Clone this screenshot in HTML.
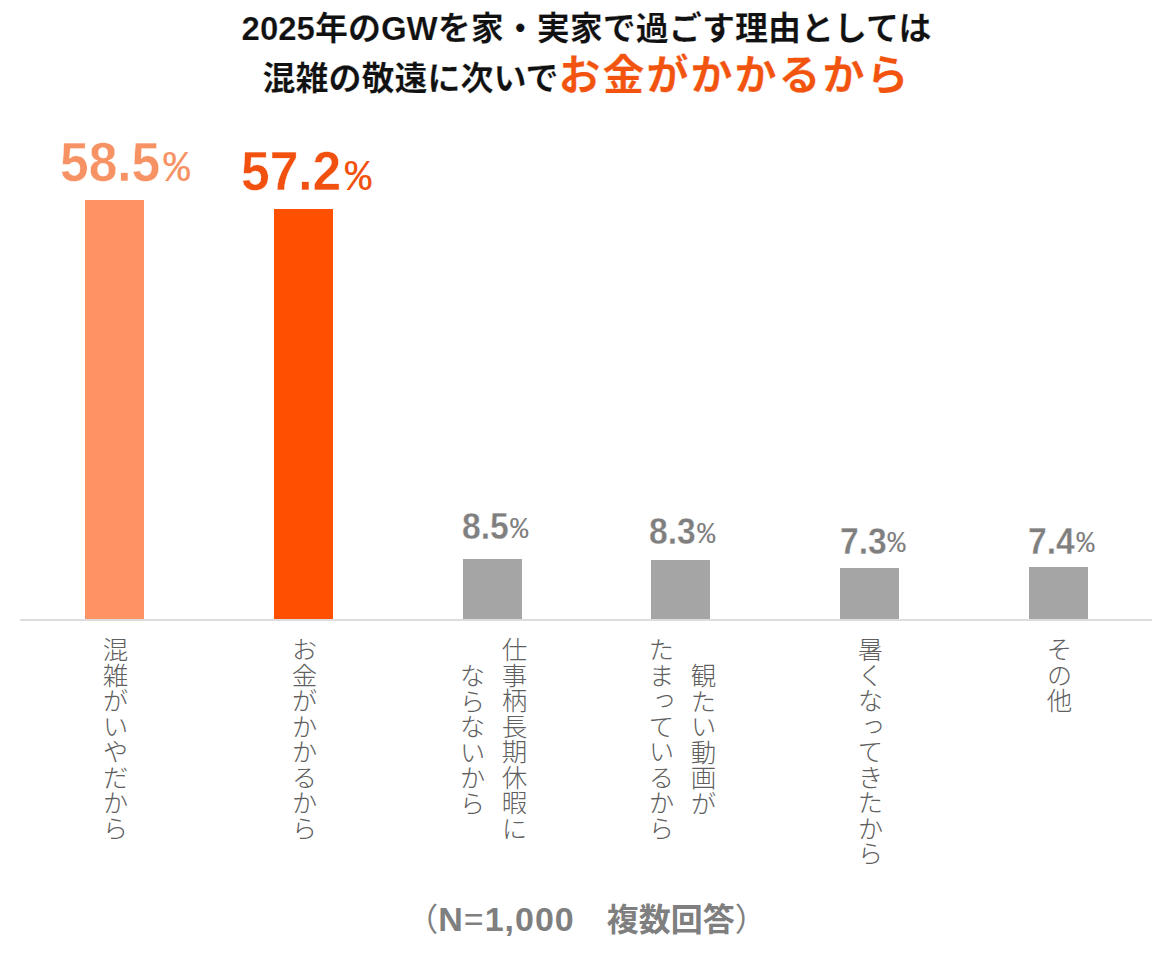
<!DOCTYPE html>
<html lang="ja">
<head>
<meta charset="utf-8">
<title>2025年のGWを家・実家で過ごす理由</title>
<style>
html,body{margin:0;padding:0;background:#fff;}
body{width:1173px;height:960px;position:relative;overflow:hidden;
  font-family:"Liberation Sans","Noto Sans CJK JP",sans-serif;}
.t{position:absolute;left:0;width:1173px;text-align:center;font-weight:700;color:#111;white-space:nowrap;line-height:1;
  font-family:"Liberation Sans","Noto Sans CJK JP",sans-serif;}
#t1{top:12px;font-size:33px;-webkit-text-stroke:0.2px #fff;}
#t2{top:55px;font-size:33px;-webkit-text-stroke:0.2px #fff;}
#t2 .o{color:#F2540F;font-size:42px;letter-spacing:2px;}
.bar{position:absolute;width:59px;}
.axis{position:absolute;left:20px;width:1132px;top:619px;height:2px;background:#dddddd;}
.d,.p{position:absolute;white-space:nowrap;line-height:1;transform-origin:0 0;font-family:"Liberation Sans","Noto Sans CJK JP",sans-serif;}
.d.big{font-size:56px;font-weight:700;transform:scaleX(0.92);-webkit-text-stroke:0.5px #fff;}
.p.big{font-size:44px;font-weight:400;font-family:"Liberation Mono",monospace;}
.d.sm{font-size:36px;font-weight:700;transform:scaleX(0.935);color:#7f7f7f;-webkit-text-stroke:0.3px #fff;}
.p.sm{font-size:30px;font-weight:400;color:#7f7f7f;font-family:"Liberation Mono",monospace;}
.lbl{position:absolute;writing-mode:vertical-rl;font-family:"Liberation Sans","Noto Sans CJK JP",sans-serif;
  font-weight:300;font-size:25.5px;line-height:42px;color:#5f5f5f;text-align:center;white-space:nowrap;}
#n{position:absolute;top:894px;left:0;width:1173px;text-align:center;font-weight:700;font-size:32px;color:#7f7f7f;white-space:nowrap;
  font-family:"Liberation Sans","Noto Sans CJK JP",sans-serif;}
#n .lt{font-weight:400;}
</style>
</head>
<body>
<div class="t" id="t1">2025年のGWを家・実家で過ごす理由としては</div>
<div class="t" id="t2">混雑の敬遠に次いで<span class="o">お金がかかるから</span></div>

<div class="d big" style="left:60.3px;top:133.6px;color:#F79264;">58.5</div>
<div class="p big" style="left:163.4px;top:147.2px;color:#F79264;">%</div>
<div class="d big" style="left:241.3px;top:142.9px;color:#F2500F;">57.2</div>
<div class="p big" style="left:345px;top:156px;color:#F2500F;">%</div>
<div class="d sm" style="left:462px;top:508.7px;">8.5</div>
<div class="p sm" style="left:510.3px;top:515px;">%</div>
<div class="d sm" style="left:649px;top:514.4px;">8.3</div>
<div class="p sm" style="left:697.2px;top:520px;">%</div>
<div class="d sm" style="left:839.7px;top:523.7px;">7.3</div>
<div class="p sm" style="left:887.6px;top:529.3px;">%</div>
<div class="d sm" style="left:1028.2px;top:523.7px;">7.4</div>
<div class="p sm" style="left:1076.4px;top:529.3px;">%</div>

<div class="bar" style="left:85px;top:200px;height:419px;background:#FF9364;"></div>
<div class="bar" style="left:274px;top:209px;height:410px;background:#FF4F00;"></div>
<div class="bar" style="left:463px;top:559px;height:60px;background:#A5A5A5;"></div>
<div class="bar" style="left:651px;top:560px;height:59px;background:#A5A5A5;"></div>
<div class="bar" style="left:840px;top:568px;height:51px;background:#A5A5A5;"></div>
<div class="bar" style="left:1029px;top:567px;height:52px;background:#A5A5A5;"></div>
<div class="axis"></div>

<div class="lbl" style="left:92px;top:637px;">混雑がいやだから</div>
<div class="lbl" style="left:281px;top:637px;">お金がかかるから</div>
<div class="lbl" style="left:449px;top:637px;">仕事柄長期休暇に<br>ならないから</div>
<div class="lbl" style="left:638px;top:637px;">観たい動画が<br>たまっているから</div>
<div class="lbl" style="left:847px;top:637px;">暑くなってきたから</div>
<div class="lbl" style="left:1036px;top:637px;">その他</div>

<div id="n"><span class="lt">（</span><span style="letter-spacing:1px;font-size:34px">N<span class="lt">=</span>1,000</span>　複数回答<span class="lt">）</span></div>
</body>
</html>
